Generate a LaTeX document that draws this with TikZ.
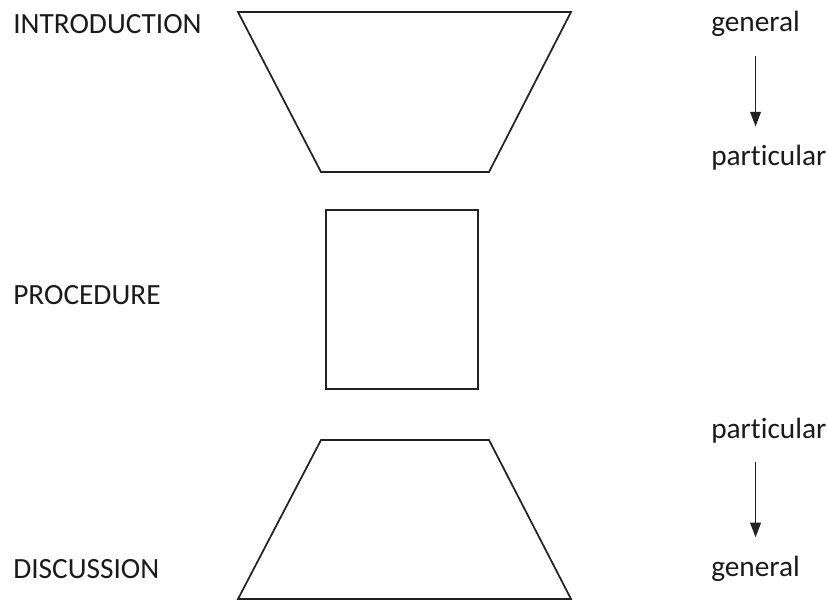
\documentclass[tikz,border=0pt]{standalone}
\usepackage{fontspec}
\setmainfont{Carlito}[Ligatures=NoCommon]
\usetikzlibrary{arrows.meta,positioning,calc}
\definecolor{hgline}{HTML}{222222}
\definecolor{hgtext}{HTML}{1A1A1A}
\tikzset{
  part/.style={draw=hgline,line width=1.3pt,line join=miter},
  lbl/.style={anchor=west,inner sep=0pt,text=hgtext,font=\fontsize{22}{26}\selectfont},
  ar/.style={-{Triangle[length=11pt,width=8pt]},line width=1.1pt,hgline},
}
\begin{document}
\begin{tikzpicture}[x=0.75pt,y=-0.75pt]
    \useasboundingbox (0,0) rectangle (828,601);
    % hourglass
    \draw[part] (238,12) -- (571,12) -- (489,172) -- (321,172) -- cycle;
    \draw[part] (326,210) rectangle (478,389);
    \draw[part] (321,440) -- (489,440) -- (571,599) -- (238,599) -- cycle;
    % section names
    \node[lbl] (intro) at (13,24) {INTRODUCTION};
    \node[lbl] (proc) at (13,295) {PROCEDURE};
    \node[lbl] (disc) at (13,569) {DISCUSSION};
    % direction of argument
    \node[lbl] (gen1) at (711,24) {general};
    \node[lbl] (part1) at (711,158) {particular};
    \node[lbl] (part2) at (711,431) {particular};
    \node[lbl] (gen2) at (711,569) {general};
    \draw[ar,shorten <=14pt,shorten >=14pt] (gen1.south) -- (gen1.south |- part1.north);
    \draw[ar,shorten <=14pt,shorten >=14pt] (gen2.north |- part2.south) -- (gen2.north);
  \end{tikzpicture}
\end{document}
